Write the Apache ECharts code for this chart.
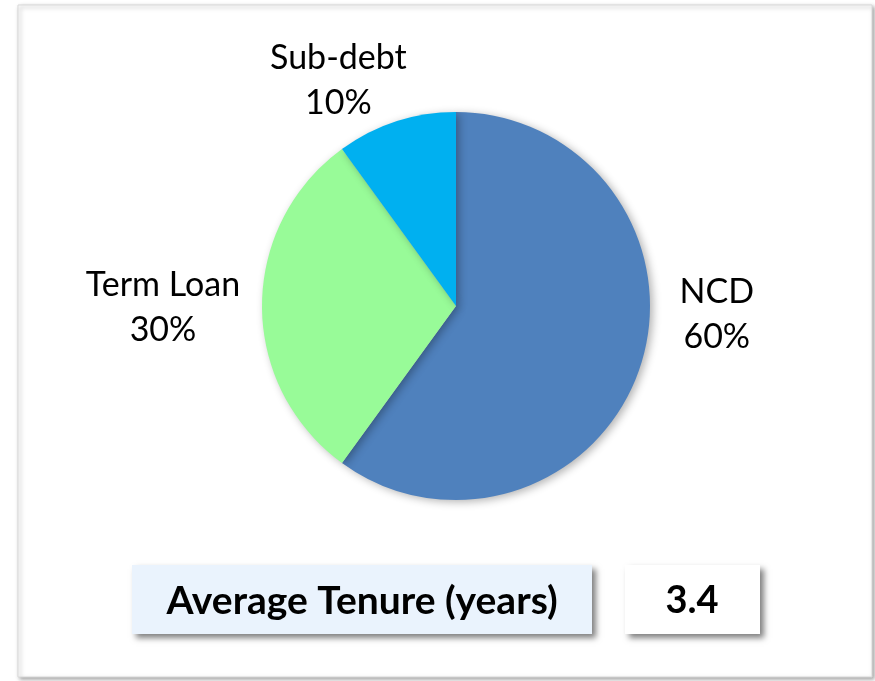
<!DOCTYPE html>
<html>
<head>
<meta charset="utf-8">
<script src="https://cdn.jsdelivr.net/npm/echarts@6/dist/echarts.min.js"></script>
<style>
  html, body { margin: 0; padding: 0; background: #fff; }
  #chart_container { width: 875px; height: 681px; }
</style>
</head>
<body>
<div id="chart_container"></div>
<script>
// funding mix
const categories = ['NCD', 'Term Loan', 'Sub-debt'];
const shares = [60, 30, 10];
const sliceColors = ['#4F81BD', '#98FB98', '#00B0F0'];

const tenureLabel = 'Average Tenure (years)';
const tenureValue = '3.4';

// small nudges so the labels sit where Excel put them
const labelShift = [[-33, -56], [11, 2], [42, -27]];

window.addEventListener("load", () => {
  let chart = echarts.init(document.getElementById("chart_container"), null, {
    renderer: 'canvas'
  });

  let pieData = categories.map((name, i) => ({
    name: name,
    value: shares[i],
    itemStyle: { color: sliceColors[i] }
  }));

  let option = {
    backgroundColor: '#ffffff',
    animation: false,
    textStyle: { fontFamily: 'Lato' },
    graphic: [
      {
        type: 'rect', z: -10,
        shape: { x: 18, y: 5, width: 854, height: 672 },
        style: {
          fill: '#ffffff', stroke: '#d9d9d9', lineWidth: 1,
          shadowBlur: 4, shadowOffsetX: 2, shadowOffsetY: 2, shadowColor: 'rgba(0,0,0,0.35)'
        }
      },
      {
        type: 'rect', z: 5,
        shape: { x: 132, y: 565, width: 460, height: 69 },
        style: {
          fill: '#EAF3FD',
          shadowBlur: 6, shadowOffsetX: 4, shadowOffsetY: 4, shadowColor: 'rgba(0,0,0,0.5)'
        }
      },
      {
        type: 'text', z: 6,
        x: 362, y: 601,
        style: {
          text: tenureLabel, fill: '#000', font: 'bold 39px Lato',
          align: 'center', verticalAlign: 'middle'
        }
      },
      {
        type: 'rect', z: 5,
        shape: { x: 625, y: 565, width: 135, height: 69 },
        style: {
          fill: '#ffffff',
          shadowBlur: 6, shadowOffsetX: 4, shadowOffsetY: 4, shadowColor: 'rgba(0,0,0,0.5)'
        }
      },
      {
        type: 'text', z: 6,
        x: 692, y: 601,
        style: {
          text: tenureValue, fill: '#000', font: 'bold 38px Lato',
          align: 'center', verticalAlign: 'middle'
        }
      }
    ],
    series: [
      {
        type: 'pie',
        center: [456, 306],
        radius: 194,
        startAngle: 90,
        clockwise: true,
        silent: true,
        itemStyle: {
          shadowBlur: 8, shadowOffsetX: 3, shadowOffsetY: 2, shadowColor: 'rgba(0,0,0,0.3)'
        },
        label: {
          show: true,
          position: 'outside',
          formatter: '{n|{b}}\n{n|{c}%}',
          rich: {
            n: { width: 160, align: 'center', fontSize: 34, lineHeight: 45, color: '#000', fontFamily: 'Lato' }
          }
        },
        labelLine: { show: false, length: 15, length2: 10 },
        labelLayout: function (params) {
          let s = labelShift[params.dataIndex];
          return { dx: s[0], dy: s[1] };
        },
        data: pieData
      }
    ]
  };

  chart.setOption(option);
  window.addEventListener('resize', chart.resize);
});
</script>
</body>
</html>
